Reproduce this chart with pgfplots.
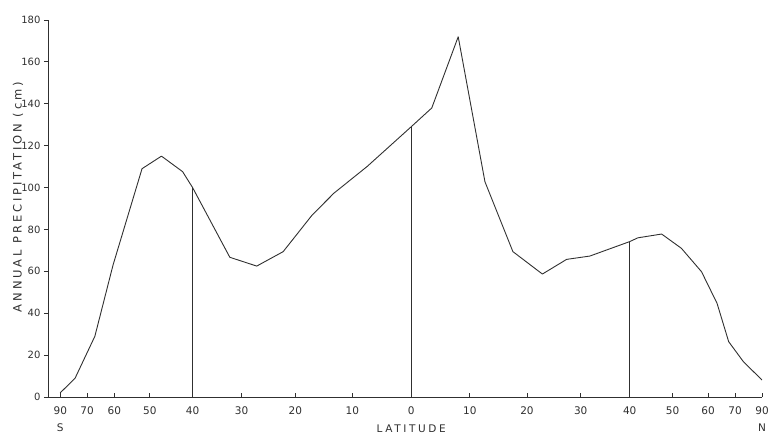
\documentclass[border=0pt]{standalone}
\usepackage{pgfplots}
\pgfplotsset{compat=1.18}
\usepackage{fontspec}
\setmainfont{DejaVu Sans}
\newfontfamily\spacedfont[LetterSpace=25]{DejaVu Sans}
\usetikzlibrary{calc}
\definecolor{ink}{HTML}{303030}

\begin{document}
\begin{tikzpicture}
\begin{axis}[
  name=ax,
  scale only axis, width=714pt, height=377pt,
  % latitude axis is drawn on a near-sine (area-like) scale;
  % below -90 it runs on linearly, to leave a gap at the y axis
  x coord trafo/.code={\pgfmathparse{#1<-90 ? -1+(#1+90)/100 : 0.9*sin(#1)+#1/900}},
  xmin=-93.5, xmax=90,
  ymin=0, ymax=180,
  axis lines=left,
  axis line style={-, ink, line width=0.9pt},
  every tick/.style={ink, line width=0.8pt},
  major tick length=4pt,
  xtick align=inside, ytick align=outside,
  xtick={-90,-70,-60,-50,-40,-30,-20,-10,0,10,20,30,40,50,60,70,90},
  xticklabels={90\\S,70,60,50,40,30,20,10,0,10,20,30,40,50,60,70,90\\N},
  xticklabel style={align=center, font=\fontsize{10.5}{17}\selectfont, text=ink, yshift=-6pt},
  ytick={0,20,...,180},
  yticklabel style={font=\fontsize{10}{12}\selectfont, text=ink},
  /pgf/number format/assume math mode=true,
  xlabel={\spacedfont LATITUDE},
  xlabel style={at={(axis cs:0,0)}, anchor=center, yshift=-32pt,
    font=\fontsize{10.5}{12}\selectfont, text=ink},
  ylabel={\spacedfont ANNUAL PRECIPITATION (cm)},
  ylabel style={at={(axis description cs:0,0.53)}, anchor=center, yshift=30pt,
    font=\fontsize{11.5}{13}\selectfont, text=ink},
]
\addplot[ink, line width=0.9pt, line join=round] coordinates {
  (-90,2) (-76,9) (-66.8,29) (-60.4,63) (-52,109) (-47.1,115) (-42.2,107.6)
  (-40,100) (-32.3,66.7) (-27.1,62.5) (-22.2,69.4) (-17,86.9) (-13.2,97.3)
  (-7.5,110) (0,129) (3.5,138) (8,172) (12.6,102.8) (17.5,69.4) (22.8,58.7)
  (27.3,65.7) (31.8,67.3) (40,74.2) (41.8,76) (47.3,77.8) (52.3,71) (58,59.8)
  (63,44.7) (67.3,26.4) (73.9,16.9) (90,8.1)
};
\addplot[ink, line width=0.9pt] coordinates {(-40,0) (-40,100)};
\addplot[ink, line width=0.9pt] coordinates {(0,0) (0,129)};
\addplot[ink, line width=0.9pt] coordinates {(40,0) (40,74.2)};
\end{axis}
\pgfresetboundingbox
\useasboundingbox ($(ax.south west)+(-48pt,-38pt)$) rectangle ($(ax.north east)+(7pt,20pt)$);
\end{tikzpicture}
\end{document}
